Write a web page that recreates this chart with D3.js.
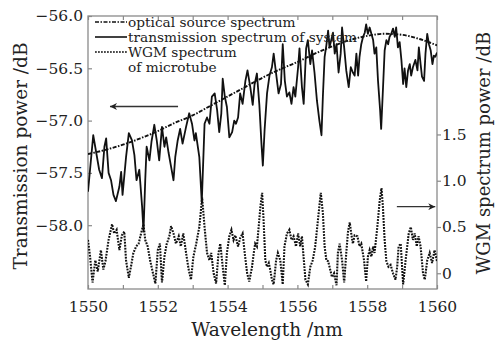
<!DOCTYPE html>
<html lang="en">
<head>
    <meta charset="UTF-8">
    <title>transmission spectrum</title>
    <script src="https://d3js.org/d3.v7.min.js"></script>
    <style>
        body { margin: 0; background: #fff; }
        text { font-family: "DejaVu Serif", serif; fill: #222; }
    </style>
</head>
<body>
    <svg></svg>
    <script>
        const svgWidth = 496;
        const svgHeight = 347;
        const margin = {top: 16, right: 59, bottom: 58, left: 88};

        // optical source spectrum (left axis, dB)
        const sourceWl = [1550, 1550.5, 1551, 1551.5, 1552, 1552.5, 1553, 1553.5, 1554, 1554.5, 1555,
            1555.5, 1556, 1556.5, 1557, 1557.5, 1558, 1558.5, 1559, 1559.5, 1560];
        const sourceDb = [-57.32, -57.28, -57.23, -57.17, -57.10, -57.02, -56.95, -56.86, -56.77, -56.68, -56.59,
            -56.51, -56.44, -56.36, -56.29, -56.23, -56.19, -56.17, -56.18, -56.22, -56.28];

        // transmission spectrum of system (left axis, dB)
        const transWl = [1550.00, 1550.15, 1550.32, 1550.40, 1550.47, 1550.52, 1550.59, 1550.66, 1550.73, 1550.80,
            1550.90, 1550.95, 1550.99, 1551.09, 1551.17, 1551.26, 1551.33, 1551.39, 1551.47, 1551.55,
            1551.59, 1551.64, 1551.68, 1551.76, 1551.82, 1551.90, 1551.97, 1552.04, 1552.12, 1552.19,
            1552.24, 1552.31, 1552.38, 1552.45, 1552.50, 1552.57, 1552.64, 1552.71, 1552.81, 1552.90,
            1552.98, 1553.05, 1553.09, 1553.19, 1553.26, 1553.34, 1553.41, 1553.48, 1553.55, 1553.63,
            1553.70, 1553.76, 1553.82, 1553.86, 1553.92, 1553.98, 1554.05, 1554.13, 1554.19, 1554.24,
            1554.30, 1554.36, 1554.43, 1554.51, 1554.57, 1554.65, 1554.72, 1554.77, 1554.84, 1554.91,
            1554.97, 1555.01, 1555.06, 1555.13, 1555.20, 1555.27, 1555.32, 1555.39, 1555.46, 1555.53,
            1555.58, 1555.64, 1555.70, 1555.77, 1555.83, 1555.89, 1555.94, 1556.02, 1556.06, 1556.13,
            1556.18, 1556.25, 1556.30, 1556.37, 1556.42, 1556.49, 1556.56, 1556.63, 1556.69, 1556.73,
            1556.78, 1556.83, 1556.88, 1556.92, 1556.97, 1557.02, 1557.07, 1557.12, 1557.18, 1557.24,
            1557.28, 1557.34, 1557.40, 1557.47, 1557.53, 1557.59, 1557.64, 1557.69, 1557.74, 1557.78,
            1557.83, 1557.88, 1557.93, 1557.97, 1558.02, 1558.07, 1558.12, 1558.17, 1558.21, 1558.26,
            1558.31, 1558.37, 1558.40, 1558.45, 1558.50, 1558.55, 1558.60, 1558.64, 1558.69, 1558.74,
            1558.79, 1558.83, 1558.88, 1558.93, 1558.98, 1559.03, 1559.07, 1559.12, 1559.17, 1559.22,
            1559.26, 1559.31, 1559.38, 1559.44, 1559.48, 1559.53, 1559.57, 1559.63, 1559.67, 1559.72,
            1559.77, 1559.82, 1559.87, 1559.91, 1559.95, 1560.00];
        const transDb = [-57.68, -57.14, -57.47, -57.55, -57.25, -57.17, -57.50, -57.57, -57.71, -57.77,
            -57.63, -57.49, -57.71, -57.35, -57.12, -57.19, -57.33, -57.57, -57.47, -57.82,
            -58.06, -57.57, -57.25, -57.38, -57.20, -57.04, -57.19, -57.38, -57.06, -57.25,
            -57.16, -57.31, -57.44, -57.57, -57.35, -57.19, -57.08, -57.22, -57.06, -56.93,
            -57.03, -57.19, -57.12, -57.35, -57.78, -57.03, -56.97, -57.03, -56.77, -56.74,
            -56.90, -57.11, -56.93, -56.60, -56.77, -56.87, -57.16, -57.11, -57.00, -57.03,
            -56.97, -56.74, -56.84, -56.62, -56.52, -56.68, -56.85, -56.66, -56.55, -56.85,
            -57.22, -57.43, -57.09, -56.74, -56.57, -56.49, -56.36, -56.55, -56.74, -56.65,
            -56.27, -56.62, -56.77, -56.73, -56.84, -56.68, -56.77, -56.49, -56.31, -56.68,
            -56.84, -56.31, -56.23, -56.46, -56.33, -56.54, -56.81, -57.00, -57.14, -56.77,
            -56.39, -56.28, -56.14, -56.30, -56.23, -56.16, -56.36, -56.27, -56.54, -56.36,
            -56.11, -56.30, -56.52, -56.68, -56.49, -56.54, -56.57, -56.36, -56.57, -56.39,
            -56.27, -56.20, -56.16, -56.08, -56.17, -56.11, -56.17, -56.23, -56.36, -56.30,
            -56.62, -56.90, -57.08, -56.71, -56.33, -56.23, -56.27, -56.20, -56.17, -56.12,
            -56.20, -56.11, -56.30, -56.25, -56.42, -56.65, -56.50, -56.68, -56.52, -56.46,
            -56.57, -56.49, -56.42, -56.52, -56.30, -56.46, -56.58, -56.62, -56.36, -56.17,
            -56.27, -56.33, -56.46, -56.38, -56.39, -56.35];

        // WGM spectrum of microtube (right axis)
        const wgmWl = [1550.00, 1550.06, 1550.13, 1550.21, 1550.28, 1550.37, 1550.44, 1550.50, 1550.59, 1550.69,
            1550.75, 1550.82, 1550.90, 1550.97, 1551.04, 1551.09, 1551.17, 1551.23, 1551.30, 1551.38,
            1551.45, 1551.52, 1551.59, 1551.64, 1551.71, 1551.78, 1551.85, 1551.93, 1552.00, 1552.06,
            1552.12, 1552.19, 1552.25, 1552.33, 1552.38, 1552.45, 1552.52, 1552.60, 1552.66, 1552.73,
            1552.81, 1552.88, 1552.95, 1553.02, 1553.09, 1553.19, 1553.27, 1553.34, 1553.41, 1553.48,
            1553.53, 1553.60, 1553.67, 1553.74, 1553.79, 1553.86, 1553.92, 1553.98, 1554.05, 1554.11,
            1554.17, 1554.22, 1554.30, 1554.36, 1554.43, 1554.49, 1554.56, 1554.62, 1554.70, 1554.75,
            1554.79, 1554.84, 1554.89, 1554.94, 1554.99, 1555.03, 1555.08, 1555.13, 1555.18, 1555.22,
            1555.27, 1555.32, 1555.39, 1555.44, 1555.51, 1555.58, 1555.63, 1555.70, 1555.77, 1555.83,
            1555.89, 1555.96, 1556.02, 1556.08, 1556.13, 1556.20, 1556.23, 1556.30, 1556.37, 1556.44,
            1556.51, 1556.59, 1556.67, 1556.73, 1556.78, 1556.83, 1556.88, 1556.92, 1556.99, 1557.05,
            1557.12, 1557.16, 1557.21, 1557.28, 1557.34, 1557.40, 1557.45, 1557.50, 1557.55, 1557.59,
            1557.64, 1557.72, 1557.78, 1557.83, 1557.91, 1557.97, 1558.02, 1558.07, 1558.12, 1558.17,
            1558.21, 1558.29, 1558.36, 1558.41, 1558.45, 1558.50, 1558.55, 1558.61, 1558.67, 1558.74,
            1558.81, 1558.86, 1558.90, 1558.96, 1559.03, 1559.10, 1559.19, 1559.25, 1559.31, 1559.36,
            1559.42, 1559.47, 1559.53, 1559.60, 1559.65, 1559.72, 1559.79, 1559.86, 1559.93, 1560.00];
        const wgmPow = [0.36, 0.18, -0.10, 0.14, 0.02, 0.25, 0.04, 0.13, 0.36, 0.53,
            0.43, 0.47, 0.25, 0.41, 0.45, 0.14, -0.05, 0.07, 0.22, 0.29,
            0.32, 0.43, 0.53, 0.36, 0.29, 0.14, 0.02, -0.11, 0.25, 0.32,
            -0.10, 0.18, 0.31, 0.40, 0.51, 0.43, 0.32, 0.40, 0.29, 0.43,
            0.22, 0.05, -0.07, 0.18, 0.30, 0.50, 0.82, 0.50, 0.22, 0.14,
            0.22, 0.00, -0.11, 0.22, 0.32, 0.07, -0.13, 0.22, 0.40, 0.47,
            0.36, 0.41, 0.29, 0.38, 0.43, 0.22, 0.00, -0.09, 0.07, 0.22,
            0.32, 0.29, 0.50, 0.72, 0.87, 0.58, 0.14, 0.07, 0.11, 0.04,
            -0.07, -0.12, 0.14, 0.22, 0.14, -0.12, 0.29, 0.43, 0.47, 0.36,
            0.40, 0.29, 0.43, 0.29, 0.40, 0.07, -0.07, -0.12, 0.07, 0.14,
            0.29, 0.58, 0.87, 0.65, 0.29, 0.14, 0.13, 0.07, -0.04, 0.00,
            -0.13, 0.22, 0.32, 0.14, -0.10, 0.22, 0.45, 0.55, 0.41, 0.32,
            0.41, 0.40, 0.29, 0.32, 0.14, -0.09, 0.18, 0.25, 0.18, 0.29,
            0.22, 0.50, 0.79, 0.92, 0.72, 0.36, 0.13, 0.07, 0.09, 0.00,
            -0.07, 0.07, 0.29, 0.32, -0.12, 0.14, 0.43, 0.50, 0.36, 0.43,
            0.29, 0.40, 0.29, 0.00, -0.07, 0.14, 0.22, 0.11, 0.25, 0.13];

        const xTicks = [1550, 1551, 1552, 1553, 1554, 1555, 1556, 1557, 1558, 1559, 1560];
        const xLabels = [1550, 1552, 1554, 1556, 1558, 1560];
        const leftTicks = [-56.0, -56.5, -57.0, -57.5, -58.0];
        const rightTicks = [0, 0.5, 1.0, 1.5];

        const legendNames = ["optical source spectrum", "transmission spectrum of system", "WGM spectrum"];

        const width = svgWidth - margin.left - margin.right;
        const height = svgHeight - margin.top - margin.bottom;

        const svg = d3.select('svg')
            .attr("width", svgWidth)
            .attr("height", svgHeight);

        const g = svg.append('g')
            .attr("transform", `translate(${margin.left},${margin.top})`);

        const x = d3.scaleLinear().domain([1550, 1560]).range([0, width]);
        const yL = d3.scaleLinear().domain([-58.61, -56.0]).range([height, 0]);
        const yR = d3.scaleLinear().domain([-0.17, 2.78]).range([height, 0]);

        const frameColor = "#8a8a8a";

        g.append("clipPath").attr("id", "clip")
            .append("rect").attr("width", width).attr("height", height);

        // axes
        const fmt = d3.format(".1f");
        const xAxis = g.append("g")
            .attr("transform", `translate(0,${height})`)
            .call(d3.axisBottom(x).tickValues(xTicks).tickSize(-4).tickPadding(12)
                .tickFormat(d => xLabels.includes(d) ? d : ""));
        const xTop = g.append("g")
            .call(d3.axisTop(x).tickValues(xTicks).tickSize(-4).tickFormat(""));
        const leftAxis = g.append("g")
            .call(d3.axisLeft(yL).tickValues(leftTicks).tickSize(-4).tickPadding(5).tickFormat(fmt));
        const rightAxis = g.append("g")
            .attr("transform", `translate(${width},0)`)
            .call(d3.axisRight(yR).tickValues(rightTicks).tickSize(4).tickPadding(1)
                .tickFormat(d => d === 0 ? "0" : fmt(d)));

        [xAxis, xTop, leftAxis, rightAxis].forEach(a => {
            a.select(".domain").remove();
            a.selectAll("line").attr("stroke", frameColor).attr("stroke-width", 1.2);
            a.selectAll("text").style("font-size", "15.5px").attr("fill", "#222");
        });

        g.append("rect")
            .attr("width", width).attr("height", height)
            .attr("fill", "none").attr("stroke", frameColor).attr("stroke-width", 1.3);

        // series
        const plot = g.append("g").attr("clip-path", "url(#clip)");

        const lineL = d3.line().x(d => x(d[0])).y(d => yL(d[1]));
        const lineR = d3.line().x(d => x(d[0])).y(d => yR(d[1]));

        plot.append("path")
            .datum(d3.zip(wgmWl, wgmPow))
            .attr("d", lineR)
            .attr("fill", "none").attr("stroke", "#111")
            .attr("stroke-width", 2.1).attr("stroke-dasharray", "1.8,1.2");

        plot.append("path")
            .datum(d3.zip(transWl, transDb))
            .attr("d", lineL)
            .attr("fill", "none").attr("stroke", "#111")
            .attr("stroke-width", 1.8).attr("stroke-linejoin", "round");

        plot.append("path")
            .datum(d3.zip(sourceWl, sourceDb))
            .attr("d", d3.line().curve(d3.curveMonotoneX).x(d => x(d[0])).y(d => yL(d[1])))
            .attr("fill", "none").attr("stroke", "#111")
            .attr("stroke-width", 1.9).attr("stroke-dasharray", "4,1.5,1.5,1.5");

        // arrows pointing to each axis
        svg.append("defs").append("marker")
            .attr("id", "head").attr("viewBox", "0 -5 10 10")
            .attr("refX", 10).attr("refY", 0)
            .attr("markerWidth", 9).attr("markerHeight", 7)
            .attr("markerUnits", "userSpaceOnUse")
            .attr("orient", "auto")
            .append("path").attr("d", "M0,-5L10,0L0,5L3,0Z").attr("fill", "#222");

        g.append("line")
            .attr("x1", x(1552.58)).attr("x2", x(1550.63))
            .attr("y1", yL(-56.865)).attr("y2", yL(-56.865))
            .attr("stroke", "#333").attr("stroke-width", 1.3)
            .attr("marker-end", "url(#head)");
        g.append("line")
            .attr("x1", x(1558.85)).attr("x2", x(1559.95))
            .attr("y1", yR(0.72)).attr("y2", yR(0.72))
            .attr("stroke", "#333").attr("stroke-width", 1.3)
            .attr("marker-end", "url(#head)");

        // legend
        const legend = g.append("g").attr("transform", "translate(7,6)");
        const dashes = ["4,1.5,1.5,1.5", null, "1.8,1.2"];
        legendNames.forEach((name, i) => {
            legend.append("line")
                .attr("x1", 0).attr("x2", 32)
                .attr("y1", i * 15).attr("y2", i * 15)
                .attr("stroke", "#111").attr("stroke-width", 1.6)
                .attr("stroke-dasharray", dashes[i]);
            legend.append("text")
                .attr("x", 33).attr("y", i * 15 + 4.5)
                .style("font-size", "13.7px")
                .text(name);
        });
        legend.append("text")
            .attr("x", 33).attr("y", 3 * 15 + 5)
            .style("font-size", "13.7px")
            .text("of microtube");

        // axis titles
        svg.append("text")
            .attr("x", 267).attr("y", 336)
            .attr("text-anchor", "middle")
            .style("font-size", "18.5px")
            .text("Wavelength /nm");
        svg.append("text")
            .attr("transform", "translate(27,156) rotate(-90)")
            .attr("text-anchor", "middle")
            .style("font-size", "18.5px")
            .text("Transmission power /dB");
        svg.append("text")
            .attr("transform", "translate(490,153) rotate(-90)")
            .attr("text-anchor", "middle")
            .style("font-size", "18px")
            .text("WGM spectrum power /dB");
    </script>
</body>
</html>
